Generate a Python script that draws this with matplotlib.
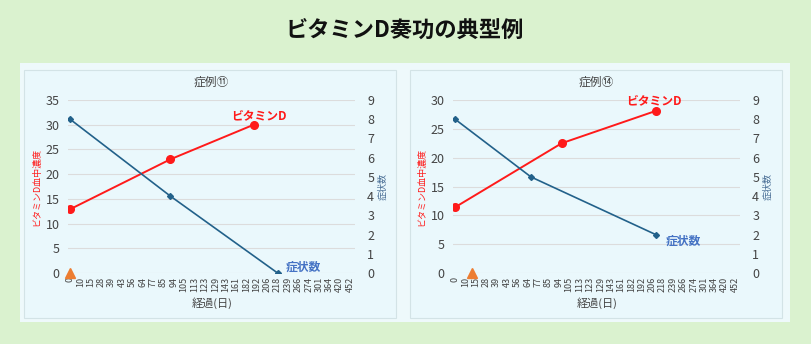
import numpy as np
import matplotlib.pyplot as plt
from matplotlib.patches import Rectangle

plt.rcParams['font.family'] = ['Noto Sans CJK JP', 'DejaVu Sans']

# elapsed-day categories on the x axis
tick_days = [0, 10, 15, 28, 39, 43, 56, 64, 77, 85, 94, 105, 113, 123, 129,
             143, 161, 182, 192, 206, 218, 239, 266, 274, 301, 364, 420, 452]

# case 11
c11_title = "症例⑪"
c11_vitd_days = [0, 91, 189]
c11_vitd = [12.9, 23.0, 30.0]
c11_sym_days = [0, 91, 218]
c11_sym = [8, 4, 0]
c11_start = 0
c11_ymax = 35

# case 14
c14_title = "症例⑭"
c14_vitd_days = [0, 97, 210]
c14_vitd = [11.4, 22.5, 28.1]
c14_sym_days = [0, 68, 210]
c14_sym = [8, 5, 2]
c14_start = 13
c14_ymax = 30

W, H = 811, 344
RED = '#ff1a1a'
BLUE = '#22618a'
LABEL_BLUE = '#4472c4'
GREY = '#444444'

fig = plt.figure(figsize=(W / 100, H / 100), dpi=100, facecolor='#daf2cf')


def rect_px(x, y, w, h, z, **kw):
    fig.patches.append(Rectangle((x / W, 1 - (y + h) / H), w / W, h / H,
                                 transform=fig.transFigure, zorder=z, **kw))


rect_px(20, 63, 770, 259, -3, facecolor='#eef9fb', edgecolor='none')

idx = np.arange(len(tick_days))


def to_pos(days):
    return np.interp(days, tick_days, idx)


def draw_case(box_x, ax_left, title, vitd_days, vitd, sym_days, sym, start, ymax,
              vd_off, sym_off):
    rect_px(box_x, 70, 372, 248, -2, facecolor='#eaf8fc', edgecolor='#d3e3e6',
            linewidth=0.8)
    ax_w = 287.4
    ax = fig.add_axes([ax_left / W, 1 - 273 / H, ax_w / W, 173 / H])
    ax.patch.set_alpha(0)
    ax2 = ax.twinx()

    ax.set_xlim(-0.2, len(tick_days) - 0.5)
    ax.set_ylim(0, ymax)
    ax2.set_ylim(0, 9)
    ax.set_yticks(np.arange(0, ymax + 1, 5))
    ax2.set_yticks(np.arange(0, 10, 1))
    ax.set_xticks(idx)
    ax.set_xticklabels([str(d) for d in tick_days], rotation=90, fontsize=6.5,
                       color=GREY)
    ax.tick_params(axis='y', length=0, labelsize=9, labelcolor=GREY, pad=6)
    ax.tick_params(axis='x', length=0, pad=3)
    ax2.tick_params(axis='y', length=0, labelsize=9, labelcolor=GREY, pad=8.5)
    for a in (ax, ax2):
        for s in a.spines.values():
            s.set_visible(False)
    ax.yaxis.grid(True, color='#dcdcdc', linewidth=0.8)
    ax.set_axisbelow(True)

    # symptom count (right axis) and serum vitamin D (left axis)
    sx = to_pos(sym_days)
    ax2.plot(sx, sym, color=BLUE, lw=1.2, marker='D', ms=3, zorder=3)
    vx = to_pos(vitd_days)
    ax.plot(vx, vitd, color=RED, lw=1.4, marker='o', ms=5.5, zorder=3)
    ax.plot(to_pos([start]), [0], marker='^', ms=6.5, color='#ed7d31',
            linestyle='none', clip_on=False, zorder=4)

    ax.annotate("ビタミンD", (vx[-1], vitd[-1]), xytext=vd_off,
                textcoords='offset points', ha='center', va='center',
                color=RED, fontsize=8.5, fontweight='bold')
    ax2.annotate("症状数", (sx[-1], sym[-1]), xytext=sym_off,
                 textcoords='offset points', ha='left', va='center',
                 color=LABEL_BLUE, fontsize=8.5, fontweight='bold')

    cx = (ax_left + ax_w / 2) / W
    fig.text(cx, 1 - 82 / H, title, ha='center', va='center', fontsize=8.5,
             color=GREY)
    fig.text(cx, 1 - 303 / H, "経過(日)", ha='center', va='center',
             fontsize=8, color=GREY)
    fig.text((ax_left - 31) / W, 1 - 187 / H, "ビタミンD血中濃度", rotation=90,
             ha='center', va='center', fontsize=6.5, color=RED)
    fig.text((ax_left + ax_w + 27) / W, 1 - 187 / H, "症状数", rotation=90,
             ha='center', va='center', fontsize=6.5, color='#4a6f96')


draw_case(24, 68, c11_title, c11_vitd_days, c11_vitd, c11_sym_days, c11_sym,
          c11_start, c11_ymax, (4, 6.5), (6, 4.5))
draw_case(410, 453, c14_title, c14_vitd_days, c14_vitd, c14_sym_days, c14_sym,
          c14_start, c14_ymax, (-1.5, 7.5), (7, -4.5))

fig.text(405 / W, 1 - 30 / H, "ビタミンD奏功の典型例", ha='center', va='center',
         fontsize=16, fontweight='bold', color='#111111')

fig.savefig('out.png', dpi=100, facecolor=fig.get_facecolor())
